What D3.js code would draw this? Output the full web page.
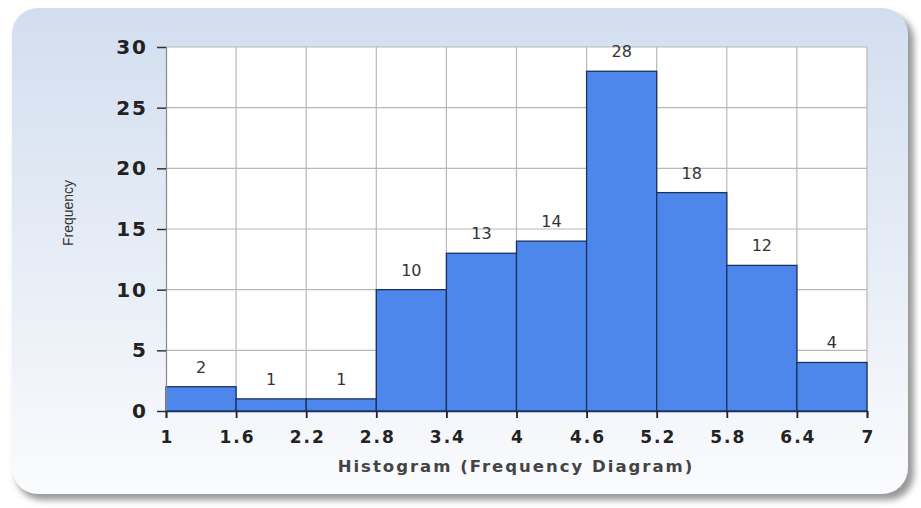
<!DOCTYPE html>
<html>
<head>
<meta charset="utf-8">
<script src="https://cdn.jsdelivr.net/npm/d3@7/dist/d3.min.js"></script>
<style>
  html, body { margin: 0; padding: 0; background: #ffffff; }
  svg { display: block; }
</style>
</head>
<body>
<script>
// Histogram bins (lower edges) and their counts
const binEdges = [1, 1.6, 2.2, 2.8, 3.4, 4, 4.6, 5.2, 5.8, 6.4, 7];
const frequencies = [2, 1, 1, 10, 13, 14, 28, 18, 12, 4];
const xTickLabels = ["1", "1.6", "2.2", "2.8", "3.4", "4", "4.6", "5.2", "5.8", "6.4", "7"];
const yTickValues = [0, 5, 10, 15, 20, 25, 30];

const W = 921, H = 508;
const plot = { left: 166, right: 867, top: 47, bottom: 411 };

const svg = d3.select("body").append("svg").attr("width", W).attr("height", H);
const defs = svg.append("defs");

const grad = defs.append("linearGradient").attr("id", "panelGrad")
  .attr("x1", 0).attr("y1", 0).attr("x2", 0).attr("y2", 1);
grad.append("stop").attr("offset", "0%").attr("stop-color", "#d2deef");
grad.append("stop").attr("offset", "45%").attr("stop-color", "#e4ebf5");
grad.append("stop").attr("offset", "100%").attr("stop-color", "#fafbfd");

const blur = defs.append("filter").attr("id", "shadowBlur")
  .attr("x", "-5%").attr("y", "-5%").attr("width", "110%").attr("height", "115%");
blur.append("feGaussianBlur").attr("stdDeviation", 3);

// Panel with a soft drop shadow
svg.append("rect")
  .attr("x", 16).attr("y", 14).attr("width", 898).attr("height", 486)
  .attr("rx", 26).attr("fill", "#9a9a9a").attr("filter", "url(#shadowBlur)");
svg.append("rect")
  .attr("x", 12).attr("y", 8).attr("width", 896).attr("height", 486)
  .attr("rx", 26).attr("fill", "url(#panelGrad)");

const x = d3.scaleLinear().domain([1, 7]).range([plot.left, plot.right]);
const y = d3.scaleLinear().domain([0, 30]).range([plot.bottom, plot.top]);

// Plot background
svg.append("rect")
  .attr("x", plot.left).attr("y", plot.top)
  .attr("width", plot.right - plot.left).attr("height", plot.bottom - plot.top)
  .attr("fill", "#ffffff");

// Grid
const grid = svg.append("g").attr("stroke", "#b8b8b8").attr("stroke-width", 1.2);
grid.selectAll("line.v").data(binEdges.slice(1)).enter().append("line")
  .attr("x1", d => x(d)).attr("x2", d => x(d))
  .attr("y1", plot.top).attr("y2", plot.bottom);
grid.selectAll("line.h").data(yTickValues.slice(1)).enter().append("line")
  .attr("x1", plot.left).attr("x2", plot.right)
  .attr("y1", d => y(d)).attr("y2", d => y(d));

// Bars
const bins = frequencies.map((f, i) => ({ x0: binEdges[i], x1: binEdges[i + 1], f }));
svg.append("g").selectAll("rect").data(bins).enter().append("rect")
  .attr("x", d => x(d.x0)).attr("width", d => x(d.x1) - x(d.x0))
  .attr("y", d => y(d.f)).attr("height", d => y(0) - y(d.f))
  .attr("fill", "#4d87ec").attr("stroke", "#1a3060").attr("stroke-width", 1.3);

// Value labels
svg.append("g").selectAll("text").data(bins).enter().append("text")
  .attr("x", d => x((d.x0 + d.x1) / 2))
  .attr("y", d => y(d.f) - 14)
  .attr("text-anchor", "middle")
  .attr("font-family", "DejaVu Sans, Verdana, sans-serif")
  .attr("font-size", 16).attr("fill", "#333333")
  .text(d => d.f);

// Y axis
const yAxis = d3.axisLeft(y).tickValues(yTickValues).tickSize(9).tickPadding(9);
const gy = svg.append("g").attr("transform", `translate(${plot.left},0)`).call(yAxis);
gy.select(".domain").attr("stroke", "#888888").attr("stroke-width", 1.2);
gy.selectAll(".tick line").attr("stroke", "#333333").attr("stroke-width", 1.5);
gy.selectAll(".tick text")
  .attr("font-family", "DejaVu Sans, Verdana, sans-serif")
  .attr("font-weight", "bold").attr("font-size", 20).attr("fill", "#222222")
  .attr("letter-spacing", 2);

// X axis
const xAxis = d3.axisBottom(x).tickValues(binEdges).tickFormat((d, i) => xTickLabels[i])
  .tickSize(7).tickPadding(13);
const gx = svg.append("g").attr("transform", `translate(0,${plot.bottom})`).call(xAxis);
gx.select(".domain").attr("stroke", "#1a3060").attr("stroke-width", 1.5);
gx.selectAll(".tick line").attr("stroke", "#222222").attr("stroke-width", 1.8);
gx.selectAll(".tick text")
  .attr("font-family", "DejaVu Sans, Verdana, sans-serif")
  .attr("font-weight", "bold").attr("font-size", 17).attr("fill", "#222222")
  .attr("letter-spacing", 2).attr("dx", "1");

// Axis titles
svg.append("text")
  .attr("x", 516).attr("y", 472)
  .attr("text-anchor", "middle")
  .attr("font-family", "DejaVu Sans, Verdana, sans-serif")
  .attr("font-weight", "bold")
  .attr("font-size", 16.5).attr("fill", "#444444")
  .attr("letter-spacing", 2)
  .text("Histogram (Frequency Diagram)");

svg.append("text")
  .attr("transform", "translate(73,213) rotate(-90)")
  .attr("text-anchor", "middle")
  .attr("font-family", "Liberation Sans Narrow, Liberation Sans, Arial, sans-serif")
  .attr("font-size", 14).attr("fill", "#333333")
  .text("Frequency");
</script>
</body>
</html>
